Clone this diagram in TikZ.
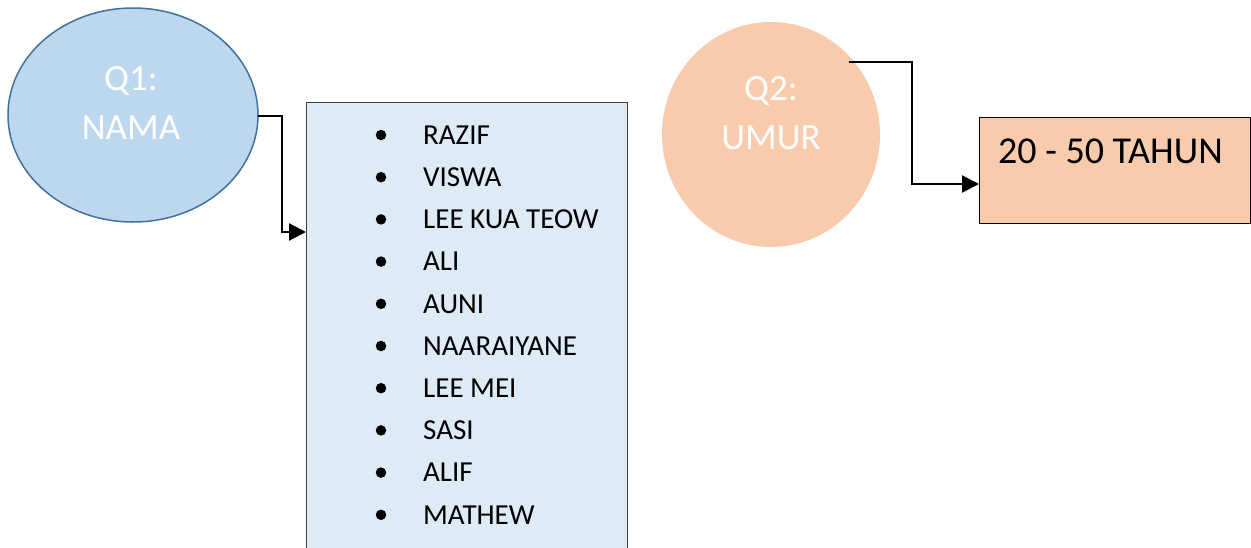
\documentclass[tikz,border=0pt]{standalone}
\usepackage{fontspec}
\setmainfont{Carlito}
\usetikzlibrary{shapes.geometric,arrows.meta}
\definecolor{qblue}{HTML}{BDD7EE}
\definecolor{qblueline}{HTML}{41719C}
\definecolor{listfill}{HTML}{DEEBF7}
\definecolor{listline}{HTML}{404040}
\definecolor{peach}{HTML}{F8CBAD}
\tikzset{
  qtext/.style={text=white, align=center, font=\fontsize{37}{49}\selectfont, inner sep=0pt},
  itemtext/.style={anchor=west, inner sep=0pt, font=\fontsize{29}{32}\selectfont},
  bulletdot/.style={circle, fill=black, inner sep=0pt, minimum size=10.5pt},
  conn/.style={line width=2.3pt, -{Triangle[length=17pt,width=17pt]}},
}
\begin{document}
\begin{tikzpicture}[x=1pt,y=-1pt]
\useasboundingbox (0,0) rectangle (1251,547);
% Q1 ellipse
\node[ellipse, draw=qblueline, line width=1.5pt, fill=qblue, minimum width=250pt, minimum height=214pt, inner sep=0pt] (q1) at (133,115) {};
\node[qtext] (q1t) at (131,103) {Q1:\\NAMA};
% list box
\node[rectangle, draw=listline, line width=1pt, fill=listfill, anchor=north west, minimum width=321pt, minimum height=470pt, inner sep=0pt] (list) at (306,102) {};
\foreach \n [count=\i] in {RAZIF,VISWA,LEE KUA TEOW,ALI,AUNI,NAARAIYANE,LEE MEI,SASI,ALIF,MATHEW}{
  \node[bulletdot] (b\i) at (381,{135+42.2*(\i-1)}) {};
  \node[itemtext] (it\i) at (423,{135+42.2*(\i-1)}) {\n};
}
% Q2 ellipse
\node[ellipse, fill=peach, minimum width=218pt, minimum height=225pt, inner sep=0pt] (q2) at (771,134.5) {};
\node[qtext] (q2t) at (771,113) {Q2:\\UMUR};
% age box
\node[rectangle, draw=black, line width=1pt, fill=peach, anchor=north west, minimum width=271pt, minimum height=106pt, inner sep=0pt] (age) at (979,117) {};
\node[anchor=west, inner sep=0pt, font=\fontsize{38}{42}\selectfont] (aget) at (998,151) {20 - 50 TAHUN};
% connectors
\coordinate (c1) at (258,116);
\draw[conn] (c1) -| (282,232) -- (list.west |- 0,232);
\coordinate (c2) at (849,62);
\draw[conn] (c2) -| (912,184) -- (age.west |- 0,184);
\end{tikzpicture}
\end{document}
